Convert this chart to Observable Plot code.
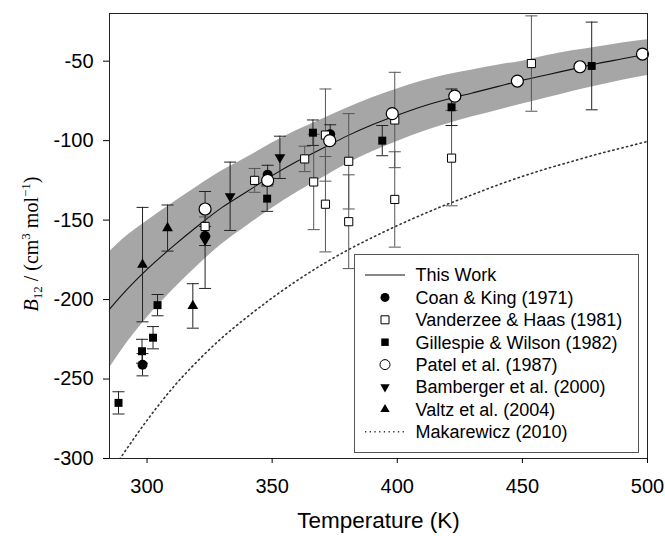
<!DOCTYPE html>
<html>
<head>
<meta charset="utf-8">
<script src="https://cdn.jsdelivr.net/npm/d3@7"></script>
<script src="https://cdn.jsdelivr.net/npm/@observablehq/plot@0.6"></script>
<style>
  html, body { margin: 0; padding: 0; background: white; }
</style>
</head>
<body>
<div id="chart"></div>
<script>
// ---- Data ----
const xTicks = [300, 350, 400, 450, 500];
const yTicks = [-300, -250, -200, -150, -100, -50];

// "This Work" fit and its uncertainty band
const fitT   = [285, 290, 300, 310, 320, 330, 340, 350, 360, 370, 380, 390, 400, 410, 420, 430, 440, 450, 460, 470, 480, 490, 500];
const fitB   = [-206, -197, -181, -167, -154, -142, -132, -122, -113, -105, -97, -90, -84, -78.5, -74, -70, -66, -62, -58.5, -55, -51.5, -48.5, -45.5];
const bandHi = [-170, -162.5, -150.5, -139.5, -129, -119, -110.5, -101.5, -93.5, -86.5, -79.5, -73, -67.5, -62.5, -58.5, -55.5, -52.5, -50, -46.5, -43.5, -41, -38.5, -36.5];
const bandLo = [-243, -231.5, -211.5, -194.5, -179, -165, -153.5, -142.5, -132.5, -123.5, -114.5, -107, -100.5, -94.5, -89.5, -85, -81, -77, -73, -69, -65.5, -62, -59];

// Makarewicz (2010)
const makT = [289, 300, 310, 320, 330, 340, 350, 360, 370, 380, 390, 400, 410, 420, 430, 440, 450, 460, 470, 480, 490, 500];
const makB = [-300.5, -276, -256, -239, -224, -211, -199, -188, -178, -169, -161, -153.5, -146.5, -140, -134, -128, -122.5, -117.5, -113, -108.5, -104.5, -100.5];

// Coan & King (1971)
const coanT   = [298.2, 323.2, 348.2, 373.2];
const coanB   = [-241, -160, -121.5, -96];
const coanErr = [7, 6, 6, 6];

// Vanderzee & Haas (1981)
const vdzT   = [323.2, 343, 363, 366.6, 371.3, 371.3, 380.6, 380.6, 399, 399, 421.7, 453.6];
const vdzB   = [-154, -125, -111.5, -126, -96.5, -140, -113, -151, -87, -137, -111, -51.5];
const vdzErr = [6, 7.5, 8, 30, 29, 30, 30, 29.5, 30, 30, 30, 30];

// Gillespie & Wilson (1982)
const gilT   = [288.6, 298, 302.4, 304.2, 348, 366.3, 394, 421.7, 477.7];
const gilB   = [-265, -232.5, -224, -203.5, -136.5, -95, -100, -79, -53];
const gilErr = [7, 7.5, 7, 6.7, 8, 8, 9.5, 11.5, 27.6];

// Patel et al. (1987)
const patT = [323.2, 348.2, 373, 398, 423, 448, 473, 498];
const patB = [-143, -125, -100, -83, -72, -62.5, -53.5, -45.5];

// Bamberger et al. (2000)
const bamT   = [323.2, 333.2, 353.1];
const bamB   = [-162.5, -135, -110.5];
const bamErr = [30.5, 21.5, 13.3];

// Valtz et al. (2004)
const valT   = [298.2, 308.2, 318.3];
const valB   = [-178, -155, -204];
const valErr = [36, 14.5, 14];

const legendLabels = ["This Work", "Coan & King (1971)", "Vanderzee & Haas (1981)", "Gillespie & Wilson (1982)",
  "Patel et al. (1987)", "Bamberger et al. (2000)", "Valtz et al. (2004)", "Makarewicz (2010)"];

// ---- Tables built from the arrays ----
const fit  = fitT.map((T, i) => ({T, B: fitB[i], hi: bandHi[i], lo: bandLo[i]}));
const mak  = makT.map((T, i) => ({T, B: makB[i]}));
const mk = (Ts, Bs, Es) => Ts.map((T, i) => ({T, B: Bs[i], err: Es ? Es[i] : 0}));
const coan = mk(coanT, coanB, coanErr);
const vdz  = mk(vdzT, vdzB, vdzErr);
const gil  = mk(gilT, gilB, gilErr);
const pat  = mk(patT, patB, null);
const bam  = mk(bamT, bamB, bamErr);
const val  = mk(valT, valB, valErr);

const capSymbol = { draw(ctx) { ctx.moveTo(-6, 0); ctx.lineTo(6, 0); } };
const DOTS = "1.3,3.4";

function errorBars(data, stroke) {
  return [
    Plot.ruleX(data, {x: "T", y1: d => d.B - d.err, y2: d => d.B + d.err, stroke, strokeWidth: 1}),
    Plot.dot(data, {x: "T", y: d => d.B + d.err, symbol: capSymbol, fill: "none", stroke, strokeWidth: 1}),
    Plot.dot(data, {x: "T", y: d => d.B - d.err, symbol: capSymbol, fill: "none", stroke, strokeWidth: 1})
  ];
}

const chart = Plot.plot({
  width: 665,
  height: 536,
  marginLeft: 109,
  marginRight: 18,
  marginTop: 13,
  marginBottom: 78,
  style: {fontFamily: "'Liberation Sans', Arial, sans-serif", fontSize: "20px", background: "white", color: "black", overflow: "visible"},
  x: {domain: [285, 500], label: null},
  y: {domain: [-300, -20], label: null},
  marks: [
    Plot.areaY(fit, {x: "T", y1: "lo", y2: "hi", fill: "#a6a6a6", curve: "monotone-x"}),
    Plot.line(mak, {x: "T", y: "B", stroke: "#333", strokeWidth: 1.6, strokeDasharray: DOTS, curve: "monotone-x", clip: true}),
    Plot.line(fit, {x: "T", y: "B", stroke: "#111", strokeWidth: 1.1, curve: "monotone-x"}),
    ...errorBars(vdz, "#555"),
    ...errorBars(gil, "#222"),
    ...errorBars(coan, "#222"),
    ...errorBars(bam, "#222"),
    ...errorBars(val, "#222"),
    Plot.dot(gil, {x: "T", y: "B", symbol: "square", r: 4.5, fill: "black", stroke: "none"}),
    Plot.dot(coan, {x: "T", y: "B", symbol: "circle", r: 5, fill: "black", stroke: "none"}),
    Plot.dot(bam, {x: "T", y: "B", symbol: "triangle", rotate: 180, r: 4, fill: "black", stroke: "none"}),
    Plot.dot(val, {x: "T", y: "B", symbol: "triangle", r: 4, fill: "black", stroke: "none"}),
    Plot.dot(vdz, {x: "T", y: "B", symbol: "square", r: 4.6, fill: "white", stroke: "black", strokeWidth: 1}),
    Plot.dot(pat, {x: "T", y: "B", symbol: "circle", r: 6, fill: "white", stroke: "black", strokeWidth: 1.2}),
    Plot.frame({stroke: "#222"}),
    Plot.axisX({ticks: xTicks, tickSize: 5, tickPadding: 15, tickFormat: d => String(d), label: null}),
    Plot.axisY({ticks: yTicks, tickSize: 6, tickPadding: 10, tickFormat: d => String(d), label: null}),
    Plot.text(["Temperature (K)"], {text: d => d, frameAnchor: "bottom", dy: 62, fontSize: 22.5, lineAnchor: "middle"})
  ]
});

document.getElementById("chart").appendChild(chart);

// ---- Y-axis title with sub/superscripts ----
const svg = d3.select(chart);
const yl = svg.append("text")
  .attr("transform", "translate(38,244) rotate(-90)")
  .attr("text-anchor", "middle")
  .attr("font-family", "'Liberation Serif', 'Times New Roman', serif")
  .attr("font-size", 20)
  .attr("fill", "black");
yl.append("tspan").attr("font-style", "italic").text("B");
yl.append("tspan").attr("font-size", 13).attr("dy", 4).text("12");
yl.append("tspan").attr("dy", -4).text(" / (cm");
yl.append("tspan").attr("font-size", 13).attr("dy", -8).text("3");
yl.append("tspan").attr("dy", 8).text(" mol");
yl.append("tspan").attr("font-size", 13).attr("dy", -8).text("\u22121");
yl.append("tspan").attr("dy", 8).text(")");

// ---- Legend ----
const lg = svg.append("g").attr("text-anchor", "start");
lg.append("rect").attr("x", 354.5).attr("y", 254.5).attr("width", 284).attr("height", 198)
  .attr("fill", "white").attr("stroke", "#555").attr("stroke-width", 1);
const symX = 385, textX = 415.5, row0 = 275, rowStep = 22.4;
const legendSyms = [
  null,
  {type: d3.symbolCircle, size: Math.PI * 4.5 * 4.5, fill: "black", stroke: "none"},
  {type: d3.symbolSquare, size: 64, fill: "white", stroke: "black"},
  {type: d3.symbolSquare, size: 56, fill: "black", stroke: "none"},
  {type: d3.symbolCircle, size: Math.PI * 5 * 5, fill: "white", stroke: "black"},
  {type: d3.symbolTriangle, size: 38, fill: "black", stroke: "none", rotate: 180},
  {type: d3.symbolTriangle, size: 38, fill: "black", stroke: "none", rotate: 0},
  null
];
legendLabels.forEach((label, i) => {
  const y = row0 + i * rowStep;
  if (i === 0) {
    lg.append("line").attr("x1", 365).attr("x2", 405).attr("y1", y).attr("y2", y)
      .attr("stroke", "#111").attr("stroke-width", 1.1);
  } else if (i === legendLabels.length - 1) {
    lg.append("line").attr("x1", 365).attr("x2", 404).attr("y1", y).attr("y2", y)
      .attr("stroke", "#333").attr("stroke-width", 1.6).attr("stroke-dasharray", DOTS);
  } else {
    const s = legendSyms[i];
    lg.append("path").attr("d", d3.symbol(s.type, s.size)())
      .attr("transform", `translate(${symX},${y}) rotate(${s.rotate || 0})`)
      .attr("fill", s.fill).attr("stroke", s.stroke).attr("stroke-width", 1);
  }
  lg.append("text").attr("x", textX).attr("y", y).attr("dy", "0.35em")
    .attr("text-anchor", "start")
    .attr("font-family", "'Liberation Sans', Arial, sans-serif").attr("font-size", 18)
    .attr("fill", "black").text(label);
});
</script>
</body>
</html>
